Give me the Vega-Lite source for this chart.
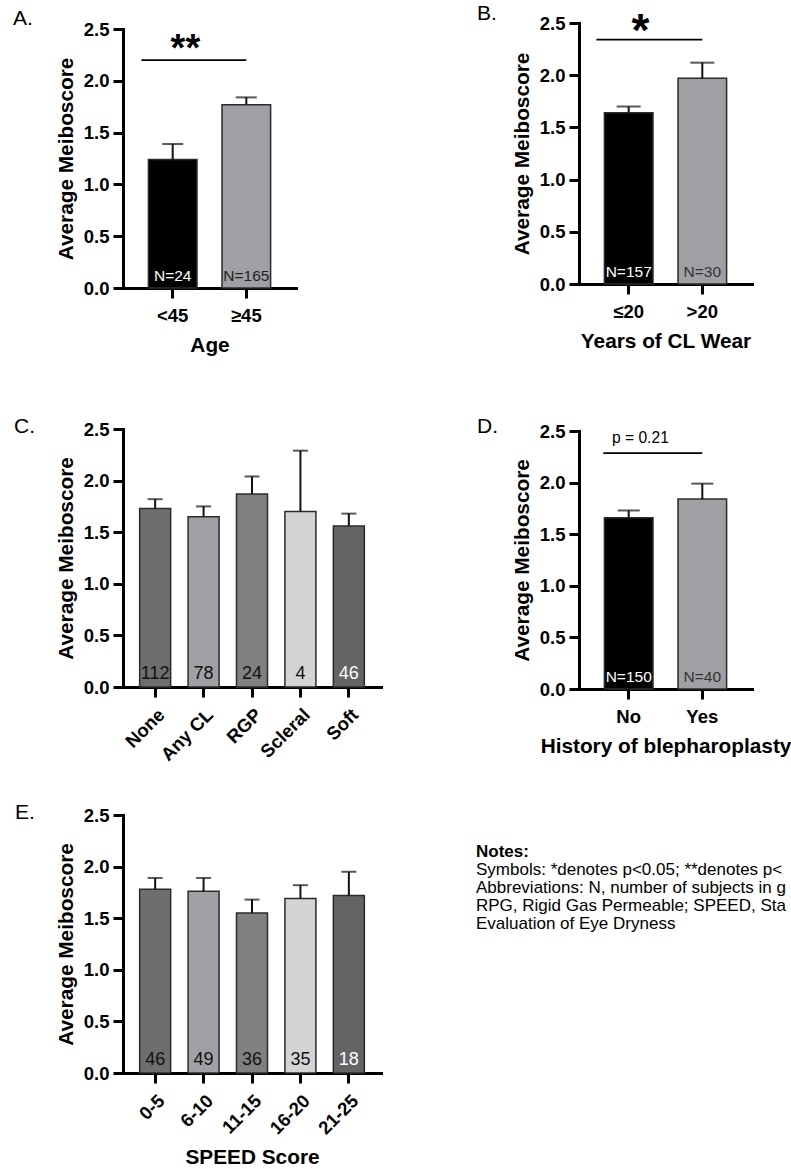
{
  "$schema": "https://vega.github.io/schema/vega-lite/v6.json",
  "background": "white",
  "padding": {"left": 13, "top": 2, "right": 0, "bottom": 0},
  "autosize": {"type": "pad"},
  "columns": 3,
  "align": "each",
  "bounds": "flush",
  "spacing": {"row": 126, "column": 98},
  "resolve": {"scale": {"fill": "independent", "color": "independent"}},
  "config": {
    "font": "Liberation Sans",
    "view": {"stroke": null},
    "axis": {
      "domainColor": "#000", "domainWidth": 3, "domainCap": "square",
      "tickColor": "#000", "tickWidth": 3, "tickSize": 10,
      "labelFont": "Liberation Sans", "labelFontWeight": "bold", "labelFontSize": 18.5, "labelColor": "#000",
      "titleFont": "Liberation Sans", "titleFontWeight": "bold", "titleFontSize": 20.8, "titleColor": "#000",
      "grid": false, "labelOverlap": false, "labelFlush": false, "labelBound": false, "zindex": 1
    },
    "axisY": {"labelPadding": 4, "titlePadding": 7},
    "axisX": {"labelPadding": 8, "titlePadding": 11},
    "title": {"font": "Liberation Sans", "fontSize": 21, "fontWeight": "normal", "anchor": "start", "frame": "group", "color": "#000", "baseline": "alphabetic", "offset": 0}
  },
  "datasets": {
    "A": [
      {"g": "<45", "mean": 1.24, "upper": 1.39, "n": "N=24"},
      {"g": "≥45", "mean": 1.77, "upper": 1.84, "n": "N=165"}
    ],
    "B": [
      {"g": "≤20", "mean": 1.64, "upper": 1.70, "n": "N=157"},
      {"g": ">20", "mean": 1.97, "upper": 2.12, "n": "N=30"}
    ],
    "C": [
      {"g": "None", "mean": 1.73, "upper": 1.82, "n": "112"},
      {"g": "Any CL", "mean": 1.65, "upper": 1.75, "n": "78"},
      {"g": "RGP", "mean": 1.87, "upper": 2.04, "n": "24"},
      {"g": "Scleral", "mean": 1.70, "upper": 2.29, "n": "4"},
      {"g": "Soft", "mean": 1.56, "upper": 1.68, "n": "46"}
    ],
    "D": [
      {"g": "No", "mean": 1.66, "upper": 1.73, "n": "N=150"},
      {"g": "Yes", "mean": 1.84, "upper": 1.99, "n": "N=40"}
    ],
    "E": [
      {"g": "0-5", "mean": 1.78, "upper": 1.89, "n": "46"},
      {"g": "6-10", "mean": 1.76, "upper": 1.89, "n": "49"},
      {"g": "11-15", "mean": 1.55, "upper": 1.68, "n": "36"},
      {"g": "16-20", "mean": 1.69, "upper": 1.82, "n": "35"},
      {"g": "21-25", "mean": 1.72, "upper": 1.95, "n": "18"}
    ],
    "notes": [
      {"line": 0, "text": "Notes:"},
      {"line": 1, "text": "Symbols: *denotes p<0.05; **denotes p<0.01"},
      {"line": 2, "text": "Abbreviations: N, number of subjects in group;"},
      {"line": 3, "text": "RPG, Rigid Gas Permeable; SPEED, Standard Patient"},
      {"line": 4, "text": "Evaluation of Eye Dryness"}
    ]
  },
  "concat": [
    {
      "width": 173, "height": 265,
      "title": {"text": "A.", "dx": -110, "dy": 13},
      "data": {"name": "A"},
      "encoding": {"x": {"field": "g", "type": "nominal", "sort": null, "scale": {"paddingInner": 0.34, "paddingOuter": 0.345}, "axis": {"labelAngle": 0, "title": "Age"}}},
      "layer": [
        {"mark": {"type": "bar", "stroke": "#2b2b2b", "strokeWidth": 1.5},
         "encoding": {
           "y": {"field": "mean", "type": "quantitative", "scale": {"domain": [0, 2.5], "range": [265, 6], "nice": false, "zero": true}, "axis": {"values": [0, 0.5, 1, 1.5, 2, 2.5], "format": ".1f", "title": "Average Meiboscore"}},
           "fill": {"field": "g", "type": "nominal", "scale": {"domain": ["<45", "≥45"], "range": ["#000000", "#a0a0a4"]}, "legend": null}}},
        {"mark": {"type": "rule", "strokeWidth": 2, "color": "#111"},
         "encoding": {"y": {"field": "mean", "type": "quantitative"}, "y2": {"field": "upper"}}},
        {"mark": {"type": "tick", "orient": "horizontal", "size": 21, "thickness": 2, "color": "#111"},
         "encoding": {"y": {"field": "upper", "type": "quantitative"}}},
        {"mark": {"type": "text", "fontSize": 15.5, "baseline": "alphabetic", "dy": -7},
         "encoding": {"y": {"datum": 0, "type": "quantitative"}, "text": {"field": "n"},
           "color": {"field": "g", "type": "nominal", "scale": {"domain": ["<45", "≥45"], "range": ["#ffffff", "#222222"]}, "legend": null}}},
        {"data": {"values": [{}]}, "mark": {"type": "rule", "strokeWidth": 1.7, "color": "#000"},
         "encoding": {"x": {"datum": "<45", "type": "nominal"}, "x2": {"datum": "≥45"}, "xOffset": {"value": -7}, "x2Offset": {"value": 6}, "y": {"datum": 2.2, "type": "quantitative"}}},
        {"data": {"values": [{}]}, "mark": {"type": "text", "text": "**", "fontSize": 38, "fontWeight": "bold", "baseline": "alphabetic"},
         "encoding": {"x": {"datum": "<45", "type": "nominal"}, "xOffset": {"value": 37}, "y": {"datum": 2.19, "type": "quantitative"}}}
      ]
    },
    {"width": 1, "height": 1, "data": {"values": []}, "mark": "point", "encoding": {}},
    {
      "width": 173, "height": 261,
      "title": {"text": "B.", "dx": -102, "dy": 19},
      "data": {"name": "B"},
      "encoding": {"x": {"field": "g", "type": "nominal", "sort": null, "scale": {"paddingInner": 0.34, "paddingOuter": 0.345}, "axis": {"labelAngle": 0, "title": "Years of CL Wear"}}},
      "layer": [
        {"mark": {"type": "bar", "stroke": "#2b2b2b", "strokeWidth": 1.5},
         "encoding": {
           "y": {"field": "mean", "type": "quantitative", "scale": {"domain": [0, 2.5], "range": [261, 0], "nice": false, "zero": true}, "axis": {"values": [0, 0.5, 1, 1.5, 2, 2.5], "format": ".1f", "title": "Average Meiboscore"}},
           "fill": {"field": "g", "type": "nominal", "scale": {"domain": ["≤20", ">20"], "range": ["#000000", "#a0a0a4"]}, "legend": null}}},
        {"mark": {"type": "rule", "strokeWidth": 2, "color": "#111"},
         "encoding": {"y": {"field": "mean", "type": "quantitative"}, "y2": {"field": "upper"}}},
        {"mark": {"type": "tick", "orient": "horizontal", "size": 24, "thickness": 2, "color": "#111"},
         "encoding": {"y": {"field": "upper", "type": "quantitative"}}},
        {"mark": {"type": "text", "fontSize": 15.5, "baseline": "alphabetic", "dy": -7},
         "encoding": {"y": {"datum": 0, "type": "quantitative"}, "text": {"field": "n"},
           "color": {"field": "g", "type": "nominal", "scale": {"domain": ["≤20", ">20"], "range": ["#ffffff", "#333333"]}, "legend": null}}},
        {"data": {"values": [{}]}, "mark": {"type": "rule", "strokeWidth": 1.7, "color": "#000"},
         "encoding": {"x": {"datum": "≤20", "type": "nominal"}, "x2": {"datum": ">20"}, "xOffset": {"value": -8}, "x2Offset": {"value": 3}, "y": {"datum": 2.34, "type": "quantitative"}}},
        {"data": {"values": [{}]}, "mark": {"type": "text", "text": "*", "fontSize": 46, "fontWeight": "bold", "baseline": "alphabetic"},
         "encoding": {"x": {"datum": "≤20", "type": "nominal"}, "xOffset": {"value": 36}, "y": {"datum": 2.28, "type": "quantitative"}}}
      ]
    },
    {
      "width": 258, "height": 273,
      "title": {"text": "C.", "dx": -109, "dy": 27},
      "data": {"name": "C"},
      "encoding": {"x": {"field": "g", "type": "nominal", "sort": null, "scale": {"paddingInner": 0.36, "paddingOuter": 0.344}, "axis": {"labelAngle": -45, "title": null}}},
      "layer": [
        {"mark": {"type": "bar", "stroke": "#2b2b2b", "strokeWidth": 1.5},
         "encoding": {
           "y": {"field": "mean", "type": "quantitative", "scale": {"domain": [0, 2.5], "range": [273, 15], "nice": false, "zero": true}, "axis": {"values": [0, 0.5, 1, 1.5, 2, 2.5], "format": ".1f", "title": "Average Meiboscore"}},
           "fill": {"field": "g", "type": "nominal", "scale": {"domain": ["None", "Any CL", "RGP", "Scleral", "Soft"], "range": ["#6e6e6e", "#a1a1a5", "#808080", "#d4d4d4", "#646464"]}, "legend": null}}},
        {"mark": {"type": "rule", "strokeWidth": 2, "color": "#111"},
         "encoding": {"y": {"field": "mean", "type": "quantitative"}, "y2": {"field": "upper"}}},
        {"mark": {"type": "tick", "orient": "horizontal", "size": 15, "thickness": 2, "color": "#111"},
         "encoding": {"y": {"field": "upper", "type": "quantitative"}}},
        {"mark": {"type": "text", "fontSize": 18, "baseline": "alphabetic", "dy": -8},
         "encoding": {"y": {"datum": 0, "type": "quantitative"}, "text": {"field": "n"},
           "color": {"field": "g", "type": "nominal", "scale": {"domain": ["None", "Any CL", "RGP", "Scleral", "Soft"], "range": ["#111111", "#111111", "#111111", "#111111", "#ffffff"]}, "legend": null}}}
      ]
    },
    {"width": 1, "height": 1, "data": {"values": []}, "mark": "point", "encoding": {}},
    {
      "width": 173, "height": 275,
      "title": {"text": "D.", "dx": -102, "dy": 27},
      "data": {"name": "D"},
      "encoding": {"x": {"field": "g", "type": "nominal", "sort": null, "scale": {"paddingInner": 0.34, "paddingOuter": 0.345}, "axis": {"labelAngle": 0, "title": "History of blepharoplasty"}}},
      "layer": [
        {"mark": {"type": "bar", "stroke": "#2b2b2b", "strokeWidth": 1.5},
         "encoding": {
           "y": {"field": "mean", "type": "quantitative", "scale": {"domain": [0, 2.5], "range": [275, 17], "nice": false, "zero": true}, "axis": {"values": [0, 0.5, 1, 1.5, 2, 2.5], "format": ".1f", "title": "Average Meiboscore"}},
           "fill": {"field": "g", "type": "nominal", "scale": {"domain": ["No", "Yes"], "range": ["#000000", "#a0a0a4"]}, "legend": null}}},
        {"mark": {"type": "rule", "strokeWidth": 2, "color": "#111"},
         "encoding": {"y": {"field": "mean", "type": "quantitative"}, "y2": {"field": "upper"}}},
        {"mark": {"type": "tick", "orient": "horizontal", "size": 22, "thickness": 2, "color": "#111"},
         "encoding": {"y": {"field": "upper", "type": "quantitative"}}},
        {"mark": {"type": "text", "fontSize": 15.5, "baseline": "alphabetic", "dy": -7},
         "encoding": {"y": {"datum": 0, "type": "quantitative"}, "text": {"field": "n"},
           "color": {"field": "g", "type": "nominal", "scale": {"domain": ["No", "Yes"], "range": ["#ffffff", "#333333"]}, "legend": null}}},
        {"data": {"values": [{}]}, "mark": {"type": "rule", "strokeWidth": 1.7, "color": "#000"},
         "encoding": {"x": {"datum": "No", "type": "nominal"}, "x2": {"datum": "Yes"}, "xOffset": {"value": -1}, "x2Offset": {"value": 2}, "y": {"datum": 2.285, "type": "quantitative"}}},
        {"data": {"values": [{}]}, "mark": {"type": "text", "text": "p = 0.21", "fontSize": 15.6, "baseline": "alphabetic"},
         "encoding": {"x": {"datum": "No", "type": "nominal"}, "xOffset": {"value": 36}, "y": {"datum": 2.38, "type": "quantitative"}}}
      ]
    },
    {
      "width": 258, "height": 258,
      "title": {"text": "E.", "dx": -108, "dy": 21},
      "data": {"name": "E"},
      "encoding": {"x": {"field": "g", "type": "nominal", "sort": null, "scale": {"paddingInner": 0.36, "paddingOuter": 0.344}, "axis": {"labelAngle": -45, "title": "SPEED Score", "titlePadding": 10}}},
      "layer": [
        {"mark": {"type": "bar", "stroke": "#2b2b2b", "strokeWidth": 1.5},
         "encoding": {
           "y": {"field": "mean", "type": "quantitative", "scale": {"domain": [0, 2.5], "nice": false, "zero": true}, "axis": {"values": [0, 0.5, 1, 1.5, 2, 2.5], "format": ".1f", "title": "Average Meiboscore"}},
           "fill": {"field": "g", "type": "nominal", "scale": {"domain": ["0-5", "6-10", "11-15", "16-20", "21-25"], "range": ["#6e6e6e", "#a1a1a5", "#808080", "#d4d4d4", "#646464"]}, "legend": null}}},
        {"mark": {"type": "rule", "strokeWidth": 2, "color": "#111"},
         "encoding": {"y": {"field": "mean", "type": "quantitative"}, "y2": {"field": "upper"}}},
        {"mark": {"type": "tick", "orient": "horizontal", "size": 15, "thickness": 2, "color": "#111"},
         "encoding": {"y": {"field": "upper", "type": "quantitative"}}},
        {"mark": {"type": "text", "fontSize": 18, "baseline": "alphabetic", "dy": -8},
         "encoding": {"y": {"datum": 0, "type": "quantitative"}, "text": {"field": "n"},
           "color": {"field": "g", "type": "nominal", "scale": {"domain": ["0-5", "6-10", "11-15", "16-20", "21-25"], "range": ["#111111", "#111111", "#111111", "#111111", "#ffffff"]}, "legend": null}}}
      ]
    },
    {
      "width": 2, "height": 135,
      "data": {"name": "notes"},
      "encoding": {"y": {"field": "line", "type": "quantitative", "scale": {"domain": [-2.056, 5.444], "reverse": true, "nice": false, "zero": false}, "axis": null}},
      "layer": [
        {"transform": [{"filter": "datum.line == 0"}],
         "mark": {"type": "text", "align": "left", "baseline": "middle", "fontSize": 17, "fontWeight": "bold", "dx": -4, "limit": 315, "ellipsis": " "},
         "encoding": {"text": {"field": "text"}}},
        {"transform": [{"filter": "datum.line > 0"}],
         "mark": {"type": "text", "align": "left", "baseline": "middle", "fontSize": 17, "fontWeight": "normal", "dx": -4, "limit": 315, "ellipsis": " "},
         "encoding": {"text": {"field": "text"}}}
      ]
    }
  ]
}
